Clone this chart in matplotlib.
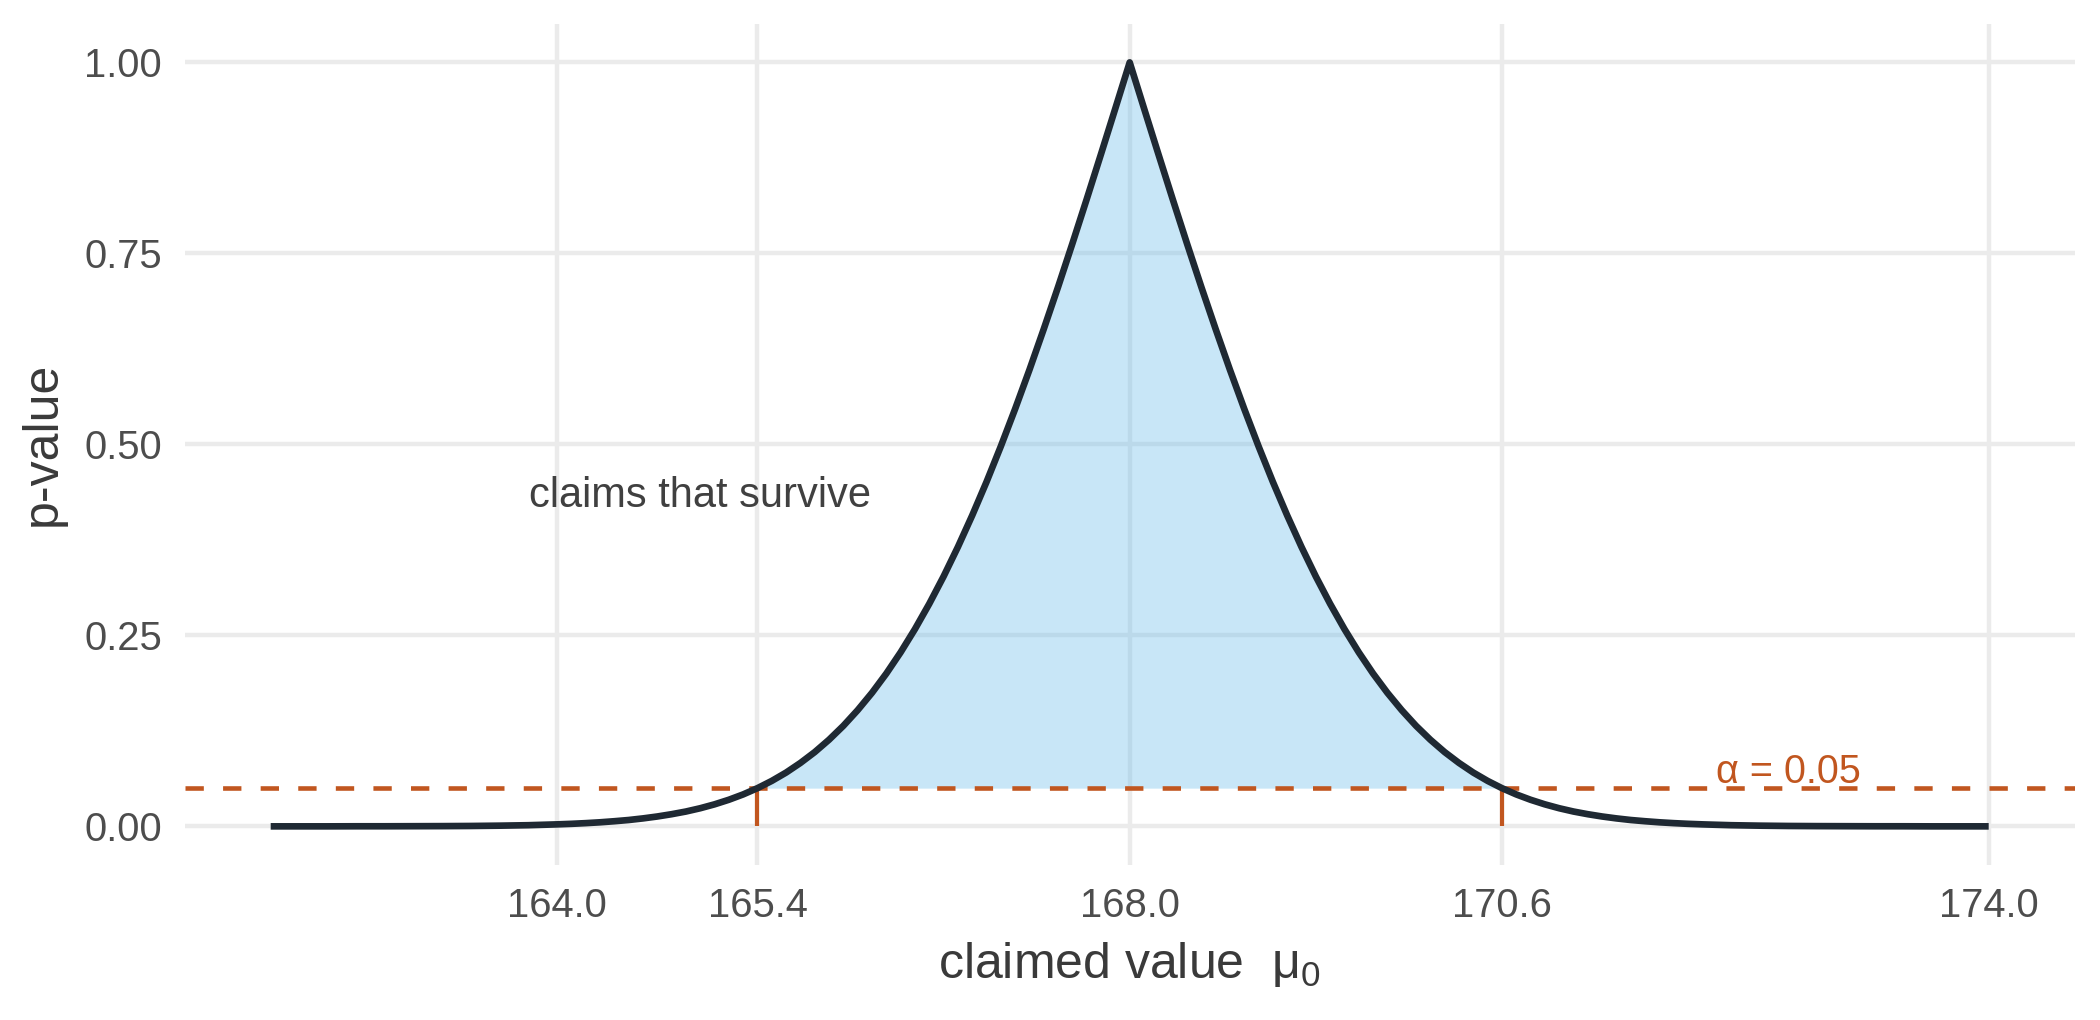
import numpy as np
import matplotlib
matplotlib.use("Agg")
import matplotlib.pyplot as plt

# p-value curve (finer steps where it bends)
claimed = [162.0, 162.2, 162.4, 162.6, 162.8, 163.0, 163.2, 163.4, 163.6, 163.8,
           164.0, 164.1, 164.2, 164.3, 164.4, 164.5, 164.6, 164.7, 164.8, 164.9,
           165.0, 165.1, 165.2, 165.3, 165.4, 165.5, 165.6, 165.7, 165.8, 165.9,
           166.0, 166.1, 166.2, 166.3, 166.4, 166.5, 166.6, 166.7, 166.8, 166.9,
           167.0, 167.1, 167.2, 167.3, 167.4, 167.5, 167.6, 167.7, 167.8, 167.9,
           168.0, 168.1, 168.2, 168.3, 168.4, 168.5, 168.6, 168.7, 168.8, 168.9,
           169.0, 169.1, 169.2, 169.3, 169.4, 169.5, 169.6, 169.7, 169.8, 169.9,
           170.0, 170.1, 170.2, 170.3, 170.4, 170.5, 170.6, 170.7, 170.8, 170.9,
           171.0, 171.1, 171.2, 171.3, 171.4, 171.5, 171.6, 171.7, 171.8, 171.9,
           172.0, 172.2, 172.4, 172.6, 172.8, 173.0, 173.2, 173.4, 173.6, 173.8,
           174.0]
p_value = [0.0000, 0.0000, 0.0000, 0.0001, 0.0001, 0.0002, 0.0003, 0.0005, 0.0009, 0.0015,
           0.0026, 0.0033, 0.0042, 0.0053, 0.0067, 0.0083, 0.0104, 0.0129, 0.0159, 0.0194,
           0.0237, 0.0288, 0.0348, 0.0418, 0.0500, 0.0595, 0.0704, 0.0830, 0.0972, 0.1134,
           0.1316, 0.1521, 0.1748, 0.2000, 0.2278, 0.2582, 0.2913, 0.3271, 0.3657, 0.4070,
           0.4509, 0.4975, 0.5465, 0.5977, 0.6511, 0.7062, 0.7630, 0.8211, 0.8802, 0.9399,
           1.0000, 0.9399, 0.8802, 0.8211, 0.7630, 0.7062, 0.6511, 0.5977, 0.5465, 0.4975,
           0.4509, 0.4070, 0.3657, 0.3271, 0.2913, 0.2582, 0.2278, 0.2000, 0.1748, 0.1521,
           0.1316, 0.1134, 0.0972, 0.0830, 0.0704, 0.0595, 0.0500, 0.0418, 0.0348, 0.0288,
           0.0237, 0.0194, 0.0159, 0.0129, 0.0104, 0.0083, 0.0067, 0.0053, 0.0042, 0.0033,
           0.0026, 0.0015, 0.0009, 0.0005, 0.0003, 0.0002, 0.0001, 0.0001, 0.0000, 0.0000,
           0.0000]

alpha_level = 0.05
ci_low, ci_high = 165.4, 170.6
x_ticks = [164.0, 165.4, 168.0, 170.6, 174.0]
y_ticks = [0.00, 0.25, 0.50, 0.75, 1.00]

orange = "#C1561F"
navy = "#1F2933"

plt.rcParams["font.family"] = ["Liberation Sans", "DejaVu Sans"]
plt.rcParams["mathtext.fontset"] = "custom"
plt.rcParams["mathtext.rm"] = "Liberation Sans"
plt.rcParams["mathtext.it"] = "Liberation Sans:italic"

x = np.array(claimed)
p = np.array(p_value)

fig = plt.figure(figsize=(7, 3.4), dpi=300)
ax = fig.add_axes([0.088, 0.1524, 0.8999, 0.8239])

# zone des affirmations qui survivent au test
inside = (x >= ci_low) & (x <= ci_high)
ax.fill_between(x, p, alpha_level, where=inside, color="#56B4E9", alpha=0.32, lw=0)

ax.axhline(alpha_level, color=orange, lw=1.1, ls=(0, (4, 4.2)))
ax.vlines([ci_low, ci_high], 0, alpha_level, color=orange, lw=1.0)
ax.plot(x, p, color=navy, lw=1.6, solid_joinstyle="round", solid_capstyle="butt")

ax.text(165.0, 0.432, "claims that survive", ha="center", va="center",
        fontsize=10, color="#404040")
ax.text(172.6, 0.057, "α = 0.05", ha="center", va="baseline",
        fontsize=9.5, color=orange)

ax.set_xlim(161.4, 174.6)
ax.set_ylim(-0.05, 1.05)
ax.set_xticks(x_ticks)
ax.set_xticklabels([f"{t:.1f}" for t in x_ticks])
ax.set_yticks(y_ticks)
ax.set_yticklabels([f"{t:.2f}" for t in y_ticks])
ax.grid(color="#EBEBEB", lw=1.07)
ax.set_axisbelow(True)
for s in ax.spines.values():
    s.set_visible(False)
ax.tick_params(length=0, pad=5.5, labelsize=9.6, labelcolor="#4D4D4D")

ax.set_xlabel(r"claimed value  $\mathrm{\mu}_\mathrm{0}$", fontsize=12, color="#3A3A3A", labelpad=3.5)
ax.set_ylabel("p-value", fontsize=12, color="#3A3A3A", labelpad=4.4)

fig.savefig("out.png", dpi=300)
